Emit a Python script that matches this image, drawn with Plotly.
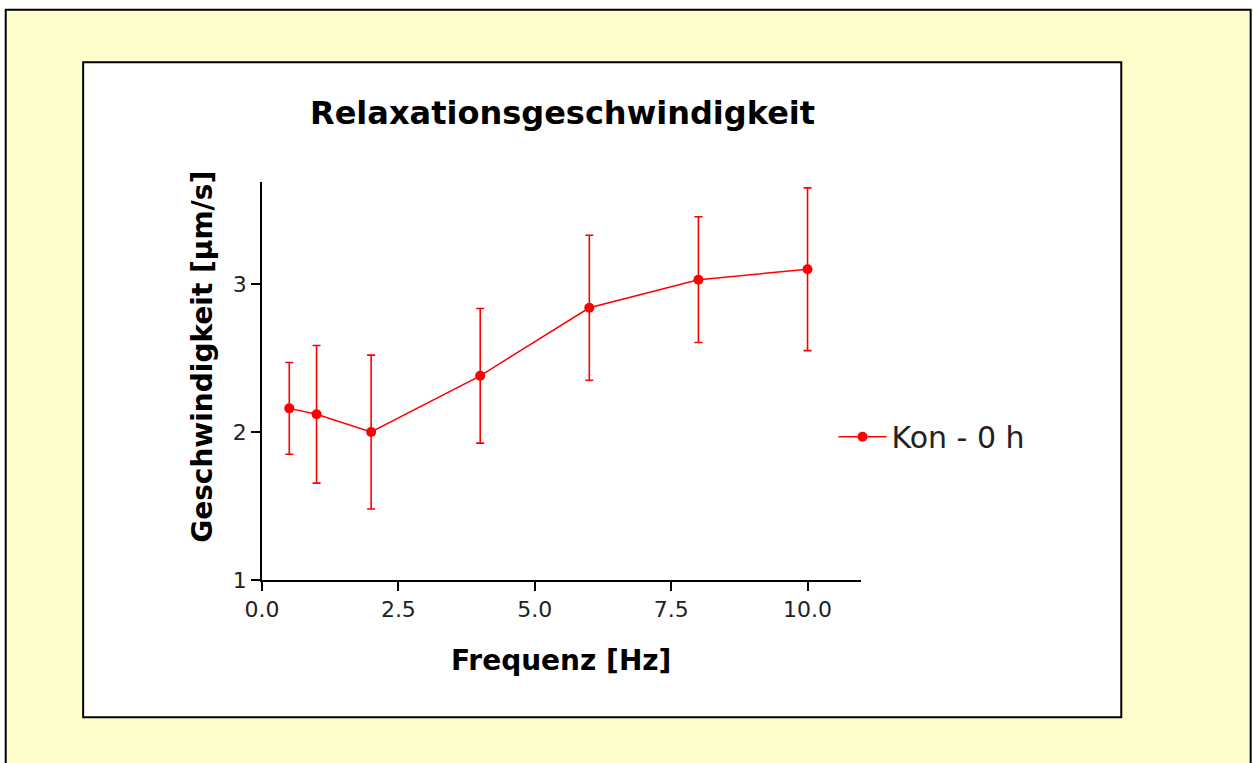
import plotly.graph_objects as go

freq = [0.5, 1, 2, 4, 6, 8, 10]
speed = [2.16, 2.12, 2.0, 2.38, 2.84, 3.03, 3.10]
speed_err = [0.31, 0.465, 0.52, 0.455, 0.49, 0.425, 0.55]
series_name = "Kon - 0 h"
x_ticks = [0.0, 2.5, 5.0, 7.5, 10.0]
x_ticklabels = ["0.0", "2.5", "5.0", "7.5", "10.0"]
y_ticks = [1, 2, 3]

W, H = 1253, 763
L, R, T, B = 262, 861.5, 182, 580.5

def fx(px):
    return (px - L) / (R - L)

def fy(py):
    return 1 - (py - T) / (B - T)

RED = "#FF0000"
FONT = "DejaVu Sans, Verdana, sans-serif"

fig = go.Figure()
fig.add_trace(go.Scatter(
    x=freq, y=speed, name=series_name, mode="lines+markers",
    line=dict(color=RED, width=1.5),
    marker=dict(color=RED, size=10),
    error_y=dict(type="data", array=speed_err, color=RED, thickness=1.6, width=4),
))

shapes = [
    dict(type="rect", xref="paper", yref="paper", x0=fx(5.5), x1=fx(1251.5), y0=fy(9.5), y1=fy(800),
         fillcolor="#FFFDCC", line=dict(color="#000000", width=2), layer="below"),
    dict(type="rect", xref="paper", yref="paper", x0=fx(83), x1=fx(1122), y0=fy(62), y1=fy(718),
         fillcolor="#FFFFFF", line=dict(color="#000000", width=2), layer="below"),
]

annotations = [
    dict(text="<b>Relaxationsgeschwindigkeit</b>", xref="paper", yref="paper", x=fx(563), y=fy(113),
         showarrow=False, font=dict(family=FONT, size=32, color="#000000"), xanchor="center", yanchor="middle"),
    dict(text="<b>Frequenz [Hz]</b>", xref="paper", yref="paper", x=fx(561), y=fy(661),
         showarrow=False, font=dict(family=FONT, size=28, color="#000000"), xanchor="center", yanchor="middle"),
    dict(text="<b>Geschwindigkeit [µm/s]</b>", xref="paper", yref="paper", x=fx(203), y=fy(357),
         showarrow=False, textangle=-90, font=dict(family=FONT, size=28, color="#000000"),
         xanchor="center", yanchor="middle"),
]

fig.update_layout(
    width=W, height=H,
    margin=dict(l=L, r=W - R, t=T, b=H - B, pad=0),
    paper_bgcolor="#FFFFFF", plot_bgcolor="rgba(0,0,0,0)",
    shapes=shapes, annotations=annotations,
    showlegend=True,
    legend=dict(x=fx(834), y=fy(437), xanchor="left", yanchor="middle",
                font=dict(family=FONT, size=30, color="#222222"),
                bgcolor="rgba(0,0,0,0)", itemwidth=48),
    xaxis=dict(range=[0, 10.98], tickvals=x_ticks, ticktext=x_ticklabels,
               showline=True, linecolor="#000000", linewidth=1.6, ticks="outside",
               ticklen=9, tickwidth=1.5, tickcolor="#000000", showgrid=False, zeroline=False,
               tickfont=dict(family=FONT, size=22, color="#222222")),
    yaxis=dict(range=[1, 3.69], tickvals=y_ticks,
               showline=True, linecolor="#000000", linewidth=1.6, ticks="outside",
               ticklen=9, tickwidth=1.5, tickcolor="#000000", showgrid=False, zeroline=False,
               tickfont=dict(family=FONT, size=22, color="#222222")),
)

fig.write_html("out.html")
